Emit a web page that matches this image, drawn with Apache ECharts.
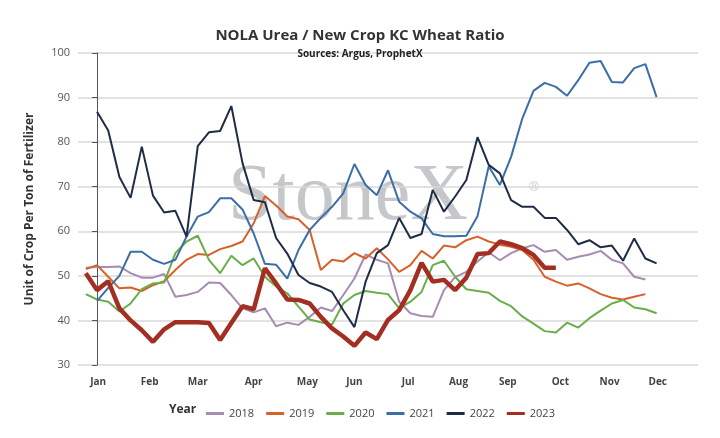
<!DOCTYPE html>
<html><head><meta charset="utf-8">
<script src="https://cdn.jsdelivr.net/npm/echarts@6/dist/echarts.min.js"></script>
<style>html,body{margin:0;background:#fff}#main{width:720px;height:438px}</style>
</head><body><div id="main"></div>
<script>
// week index -> x position; months labelled at these positions
var monthNames = ['Jan','Feb','Mar','Apr','May','Jun','Jul','Aug','Sep','Oct','Nov','Dec'];
var monthPos = [0.1, 4.7, 9.0, 14.0, 18.8, 23.0, 27.8, 32.3, 36.7, 41.4, 45.8, 50.1];

// values start at week -1 (2018,2019,2020,2023) or week 0 (2021,2022)
var y2018 = [51.8,52,52,52.1,50.6,49.6,49.6,50.4,45.3,45.7,46.4,48.5,48.4,45.7,42.7,41.8,42.7,38.7,39.5,39,40.8,42.9,42.1,45.7,49.4,54.8,53.6,52.8,44.2,41.6,41,40.8,46.8,49.7,50.9,53.2,55.3,53.5,55.1,56.2,56.9,55.4,55.8,53.6,54.3,54.8,55.6,53.6,52.8,49.8,49.2];
var y2019 = [51.5,52.4,49.8,47.2,47.4,46.6,47.9,48.8,51.3,53.6,54.9,54.7,56,56.7,57.7,61.8,67.9,65.8,63.3,62.7,60.3,51.3,53.6,53.2,55.1,53.9,56.2,53.7,50.9,52.4,55.6,53.9,56.8,56.4,58,58.8,57.7,57,56.5,55.8,53.6,49.8,48.7,47.8,48.3,47.2,45.9,45.1,44.7,45.3,45.9];
var y2020 = [45.9,44.7,44.2,42,43.8,47,48.3,48.5,55.1,57.7,59,53.6,50.6,54.5,52.4,53.9,49.8,47.6,46.1,43.1,40.2,39.6,39.1,43.8,45.7,46.6,46.2,45.9,42.7,44.2,46.4,52.4,53.4,49.8,47,46.6,46.2,44.4,43.2,40.9,39.3,37.6,37.3,39.5,38.4,40.5,42.2,43.8,44.6,42.9,42.5,41.6];
var y2021 = [44.4,47.3,50,55.4,55.4,53.6,52.7,53.6,58.8,63.3,64.3,67.4,67.4,64.9,59.5,52.7,52.5,49.4,55.8,60.3,63,65.5,68.5,75.1,70.4,68.1,73.7,66.6,64.4,62.9,59.4,58.9,58.9,59,63.4,74.6,70.4,76.7,85.3,91.5,93.3,92.4,90.4,93.9,97.8,98.2,93.5,93.4,96.6,97.5,90.1];
var y2022 = [86.8,82.6,72.2,67.5,79,68,64.2,64.6,58.8,79.1,82.2,82.5,88.1,75.3,67,66.5,58.5,55,50.2,48.4,47.6,46.4,42.3,38.5,48.7,55.1,56.9,63,58.5,59.4,69.3,64.4,67.8,71.5,81.1,74.9,73,67,65.5,65.5,63,63,60.3,57.1,58,56.4,56.8,53.4,58.4,53.9,52.8];
var y2023 = [50.6,46.8,48.8,42.7,40,37.8,35.2,38,39.6,39.6,39.6,39.4,35.6,39.4,43.2,42.5,51.7,48.3,44.7,44.6,43.8,40.8,38.2,36.4,34.3,37.3,35.8,40.1,42.3,46.8,52.9,48.7,49.1,46.8,49.6,54.9,55.1,57.7,57.1,56.2,54.7,51.8,51.8];

var years = ['2018','2019','2020','2021','2022','2023'];
var colors = ['#a68cb2','#d8612b','#6aae4a','#3b6ea6','#1d2d45','#a32e22'];
var values = [y2018, y2019, y2020, y2021, y2022, y2023];
var starts = [-1, -1, -1, 0, 0, -1];

var series = years.map(function (yr, k) {
  return {
    name: yr, type: 'line', symbol: 'none',
    data: values[k].map(function (v, i) { return [starts[k] + i, v]; }),
    lineStyle: { color: colors[k], width: yr === '2023' ? 4.5 : 2 },
    itemStyle: { color: colors[k] },
    z: yr === '2023' ? 5 : 3
  };
});

var myChart = echarts.init(document.getElementById('main'));
var option = {
  backgroundColor: '#fff',
  animation: false,
  textStyle: { fontFamily: 'Open Sans' },
  title: {
    text: 'NOLA Urea / New Crop KC Wheat Ratio',
    subtext: 'Sources: Argus, ProphetX',
    left: 'center', top: 23, itemGap: 6,
    textStyle: { fontSize: 15, fontWeight: 'bold', color: '#333' },
    subtextStyle: { fontSize: 10, fontWeight: 'bold', color: '#222' }
  },
  graphic: [
    { type: 'text', left: 228, top: 158, z: 0, silent: true,
      style: { text: 'StoneX', font: '80px "Liberation Serif"', fill: 'rgba(160,162,168,0.6)' } },
    { type: 'text', left: 529, top: 181, z: 0,
      style: { text: '®', font: '13px "Liberation Sans"', fill: 'rgba(160,162,168,0.6)' } },
    { type: 'text', left: 169, top: 404,
      style: { text: 'Year', font: 'bold 12px "Open Sans"', fill: '#333' } }
  ],
  legend: {
    data: years, left: 201, top: 403, icon: 'rect', itemWidth: 18, itemHeight: 3, itemGap: 12,
    textStyle: { fontSize: 11, color: '#444' }
  },
  grid: { left: 78, right: 22, top: 53, bottom: 73 },
  xAxis: {
    type: 'value', min: -1.7, max: 53.7,
    axisLine: { show: false }, axisTick: { show: false }, splitLine: { show: false },
    axisLabel: { customValues: monthPos, color: '#444', fontWeight: 'bold', fontSize: 10, margin: 12,
      formatter: function (v) { return monthNames[monthPos.indexOf(v)]; } }
  },
  yAxis: {
    type: 'value', min: 30, max: 100, interval: 10,
    name: 'Unit of Crop Per Ton of Fertilizer', nameLocation: 'middle', nameGap: 42,
    nameTextStyle: { fontWeight: 'bold', fontSize: 12, color: '#333' },
    axisLabel: { color: '#555', fontSize: 11 },
    splitLine: { lineStyle: { color: '#d9d9d9', width: 1.5 } }
  },
  series: series
};
myChart.setOption(option);
</script></body></html>
